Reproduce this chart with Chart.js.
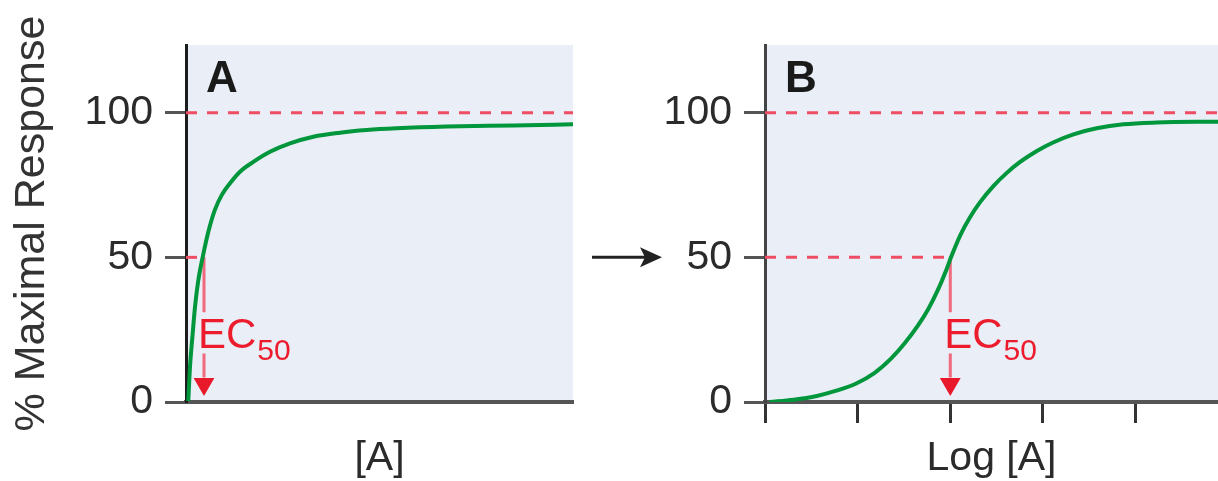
<!DOCTYPE html>
<html>
<head>
<meta charset="utf-8">
<script src="https://cdn.jsdelivr.net/npm/chart.js@4.4.1/dist/chart.umd.min.js"></script>
<style>
body { margin: 0; background: #fff; }
#left { position: absolute; left: 0; top: 0; }
#right { position: absolute; left: 585px; top: 0; }
</style>
</head>
<body>
<canvas id="left" width="585" height="481"></canvas>
<canvas id="right" width="633" height="481"></canvas>
<script>
// values
var yTicks = [0, 50, 100];
var logTicks = [0, 1, 2, 3, 4];

// panel A: response vs [A] (x in % of the axis)
var concX = [0.59, 1.03, 1.73, 2.33, 3.18, 4.3, 5.35, 6.2, 7.49, 9.22, 11.37, 13.95, 17.39, 21.7, 26.87, 32.9, 39.8, 46.7, 54.4, 67.4, 84.6, 100];
var concY = [0.35, 12.1, 23.7, 32.9, 42.1, 50.0, 56.5, 61.0, 66.5, 71.5, 75.6, 79.6, 83.0, 86.5, 89.4, 91.7, 93.1, 94.0, 94.6, 95.2, 95.6, 96.0];
var concEC50 = 4.65;

// panel B: response vs log[A]
var logX = [0.05, 0.31, 0.56, 0.77, 0.99, 1.18, 1.36, 1.51, 1.65, 1.76, 1.87, 1.96, 2.01, 2.11, 2.21, 2.32, 2.47, 2.61, 2.75, 2.93, 3.11, 3.33, 3.58, 3.87, 4.23, 4.89];
var logY = [0.0, 0.8, 2.1, 3.9, 6.5, 10.0, 15.0, 20.4, 26.4, 32.0, 39.0, 45.9, 50.2, 57.8, 63.7, 69.0, 74.8, 79.2, 82.9, 86.7, 89.7, 92.5, 94.6, 96.0, 96.6, 96.9];
var logEC50 = 2.0;

var maxResponse = 100;
var halfResponse = 50;

var green = '#00963c';
var dashRed = '#ef4d63';
var lineRed = '#f0697c';
var textRed = '#ec1c2d';
var font = '"Liberation Sans", Arial, sans-serif';

function pts(xs, ys) {
	var out = [];
	for (var i in xs) {
		out.push({x: xs[i], y: ys[i]});
	}
	return out;
}

var plotBg = {
	id: 'plotBg',
	beforeDraw: function(chart) {
		var a = chart.chartArea;
		var ctx = chart.ctx;
		ctx.save();
		ctx.fillStyle = '#e9eef7';
		ctx.fillRect(a.left, a.top, a.right - a.left, a.bottom - a.top);
		ctx.restore();
	}
};

function labelsPlugin(letter, ec50, withArrow) {
	return {
		id: 'labels',
		afterDraw: function(chart) {
			var ctx = chart.ctx;
			var a = chart.chartArea;
			var xs = chart.scales.x;
			var ys = chart.scales.y;
			ctx.save();
			ctx.fillStyle = '#1a1a1a';
			ctx.font = 'bold 44px ' + font;
			ctx.textBaseline = 'alphabetic';
			ctx.fillText(letter, a.left + 20, a.top + 47);

			var ex = xs.getPixelForValue(ec50) - 6;
			var ey = ys.getPixelForValue(halfResponse) + 91;
			ctx.fillStyle = textRed;
			ctx.font = '42px ' + font;
			ctx.fillText('EC', ex, ey);
			var w = ctx.measureText('EC').width;
			ctx.font = '30px ' + font;
			ctx.fillText('50', ex + w + 1, ey + 12);

			if (withArrow) {
				var ay = ys.getPixelForValue(halfResponse);
				ctx.strokeStyle = '#222';
				ctx.fillStyle = '#222';
				ctx.lineWidth = 3;
				ctx.beginPath();
				ctx.moveTo(7, ay);
				ctx.lineTo(62, ay);
				ctx.stroke();
				ctx.beginPath();
				ctx.moveTo(77, ay);
				ctx.lineTo(55, ay - 10);
				ctx.lineTo(60, ay);
				ctx.lineTo(55, ay + 10);
				ctx.closePath();
				ctx.fill();
			}
			ctx.restore();
		}
	};
}

function makeChart(id, cfg) {
	var ec = cfg.ec50;
	var datasets = [
		{
			data: pts(cfg.xs, cfg.ys),
			borderColor: green,
			borderWidth: 4,
			pointRadius: 0,
			cubicInterpolationMode: 'monotone',
			order: 0
		},
		{
			data: [{x: 0, y: maxResponse}, {x: cfg.xMax, y: maxResponse}],
			borderColor: dashRed,
			borderWidth: 3,
			borderDash: [11, 10],
			pointRadius: 0,
			order: 2
		},
		{
			data: [{x: 0, y: halfResponse}, {x: ec, y: halfResponse}],
			borderColor: dashRed,
			borderWidth: 3,
			borderDash: [11, 10],
			pointRadius: 0,
			order: 2
		},
		{
			data: [{x: ec, y: halfResponse}, {x: ec, y: 31}, {x: ec, y: null}, {x: ec, y: 16.8}, {x: ec, y: 8.5}],
			borderColor: lineRed,
			borderWidth: 3,
			pointRadius: 0,
			spanGaps: false,
			order: 1
		},
		{
			data: [{x: ec, y: 6.2}],
			showLine: false,
			pointStyle: 'triangle',
			rotation: 180,
			pointRadius: 12,
			pointBackgroundColor: '#e8192b',
			pointBorderWidth: 0,
			order: 1
		}
	];

	return new Chart(document.getElementById(id), {
		type: 'line',
		data: {datasets: datasets},
		options: {
			responsive: false,
			animation: false,
			layout: {autoPadding: false, padding: {top: 45, right: cfg.padRight, left: 0, bottom: 0}},
			plugins: {legend: {display: false}, tooltip: {enabled: false}},
			scales: {
				x: {
					type: 'linear',
					min: 0,
					max: cfg.xMax,
					afterBuildTicks: function(s) {
						s.ticks = cfg.xTicks.map(function(v) { return {value: v}; });
					},
					afterFit: function(s) { s.height = 79; },
					ticks: {display: false},
					grid: {display: true, drawOnChartArea: false, drawTicks: cfg.xTicks.length > 0, tickLength: 21, tickWidth: 3, tickColor: '#333', color: '#333'},
					border: {display: true, color: '#555', width: 4},
					title: {display: true, text: cfg.xTitle, color: '#2b2b2b', font: {family: font, size: 41, lineHeight: 1.1}, padding: 0}
				},
				y: {
					min: 0,
					max: 123.4,
					afterBuildTicks: function(s) {
						s.ticks = yTicks.map(function(v) { return {value: v}; });
					},
					afterFit: function(s) { s.width = cfg.yWidth; },
					ticks: {color: '#2b2b2b', font: {family: font, size: 41}, padding: 12},
					grid: {display: true, drawOnChartArea: false, tickLength: 21, tickWidth: 3, tickColor: '#555', color: '#555'},
					border: {display: true, color: cfg.yAxisColor, width: 3},
					title: {display: cfg.yTitle !== '', text: cfg.yTitle, color: '#333', font: {family: font, size: 43}, padding: {top: 6, bottom: 0}}
				}
			}
		},
		plugins: [plotBg, labelsPlugin(cfg.letter, ec, cfg.arrow)]
	});
}

makeChart('left', {
	xs: concX, ys: concY, ec50: concEC50, xMax: 100, xTicks: [],
	xTitle: '[A]', yTitle: '% Maximal Response', yWidth: 186, padRight: 12,
	yAxisColor: '#1c1c1c', letter: 'A', arrow: false
});

makeChart('right', {
	xs: logX, ys: logY, ec50: logEC50, xMax: 4.89, xTicks: logTicks,
	xTitle: 'Log [A]', yTitle: '', yWidth: 180, padRight: 0,
	yAxisColor: '#444', letter: 'B', arrow: true
});
</script>
</body>
</html>
